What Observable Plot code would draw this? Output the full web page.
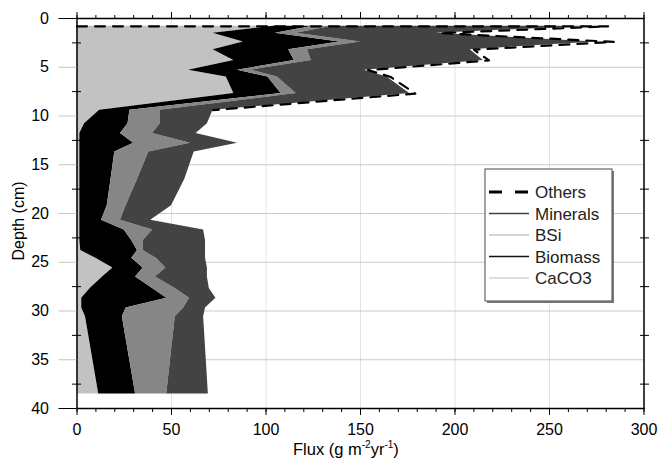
<!DOCTYPE html>
<html><head><meta charset="utf-8">
<script src="https://cdn.jsdelivr.net/npm/d3@7"></script>
<script src="https://cdn.jsdelivr.net/npm/@observablehq/plot@0.6"></script>
<style>
body{margin:0;background:#fff;}
#chart{position:relative;width:660px;height:469px;}
</style></head><body><div id="chart"></div>
<script>
// ---- data ----
const depth    = [0.8,1.5,2.4,3.2,4.3,5.3,6.0,7.7,9.4,10.8,11.8,12.8,13.7,16.5,19.2,20.7,21.7,22.8,23.8,24.6,25.6,26.5,27.7,28.7,29.7,30.6,38.5];
const caco3    = [104,72,88,72,83,59,79,83,12,4,1.5,1.5,1.5,1.5,1.5,1.5,1.5,1.5,2,10,19,13.5,7,2.5,2.5,4.5,11.5];
const biomass  = [21,33,51,40,32,26,22,25,16,23,21.5,28.5,18.5,16.5,14.5,11.5,23.5,27.5,30,19,16,17.5,33,45,23.5,19.5,19.5];
const bsi      = [10,11,11,10,9,7,5,8,16,17,17,30,18,14,10,10,15,6,3,13,12,10.5,12,12,30.5,28,16.5];
const minerals = [137,74,124,86,91,60,58,60,28,25,23,25,24,25,24,16,27,33,33,26,22,27.5,18,14,11.5,15,22];
const others   = [9,2,10,2,3,2,2,3,0,0,0,0,0,0,0,0,0,0,0,0,0,0,0,0,0,0,0];
const stackOrder = ["CaCO3","Biomass","BSi","Minerals"];
const legendNames = ["Others","Minerals","BSi","Biomass","CaCO3"];
const xTicks = [0,50,100,150,200,250,300];
const yTicks = [0,5,10,15,20,25,30,35,40];

// ---- build tables ----
const bySeries = {CaCO3: caco3, Biomass: biomass, BSi: bsi, Minerals: minerals};
const rows = [];
stackOrder.forEach(name => depth.forEach((d, i) => rows.push({series: name, depth: d, value: bySeries[name][i]})));
const total = depth.map((d, i) => caco3[i] + biomass[i] + bsi[i] + minerals[i] + others[i]);
let lastOthers = 0;
others.forEach((v, i) => { if (v > 0) lastOthers = i; });
const othersPts = [{x: 0, depth: depth[0]}];
for (let i = 0; i <= Math.min(lastOthers + 1, depth.length - 1); i++) othersPts.push({x: total[i], depth: depth[i]});

const fills = ["#c2c2c2", "#000000", "#868686", "#434343"];
const font = "'Liberation Sans', Arial, sans-serif";

const plot = Plot.plot({
  width: 660, height: 469,
  marginLeft: 76.5, marginRight: 16.5, marginTop: 18, marginBottom: 61,
  style: {fontFamily: font, fontSize: "16px", background: "white", color: "black"},
  x: {domain: [0, 300]},
  y: {domain: [0, 40], reverse: true},
  color: {domain: stackOrder, range: fills},
  marks: [
    Plot.gridX(xTicks.slice(1, -1), {stroke: "#e2e2e2", strokeOpacity: 1}),
    Plot.gridY(yTicks.slice(1, -1), {stroke: "#cacaca", strokeOpacity: 1}),
    Plot.areaX(rows, {x: "value", y: "depth", fill: "series", z: "series", order: stackOrder, curve: "linear"}),
    Plot.lineX(othersPts, {x: "x", y: "depth", stroke: "black", strokeWidth: 2.2, strokeDasharray: "10,8", curve: "linear"}),
    Plot.frame({stroke: "black", strokeWidth: 1.5}),
    Plot.axisX(xTicks, {anchor: "bottom", tickSize: 7, tickPadding: 8, label: null, fontSize: 16}),
    Plot.axisX(d3.range(0, 301, 10), {anchor: "bottom", tickSize: 4, text: null, label: null}),
    Plot.axisX(d3.range(0, 301, 10), {anchor: "top", tickSize: 4, text: null, label: null}),
    Plot.axisX(xTicks, {anchor: "top", tickSize: 7, text: null, label: null}),
    Plot.axisY(yTicks, {anchor: "left", tickSize: 18, tickPadding: 10, stroke: "#c4c4c4", fill: "black", label: null, fontSize: 16}),
    Plot.axisY([0, 40], {anchor: "left", tickSize: 18, text: null, label: null}),
    Plot.axisY(d3.range(2.5, 40, 5), {anchor: "left", tickSize: 9, dx: 4.5, text: null, label: null}),
    Plot.axisY(d3.range(2.5, 40, 5), {anchor: "right", tickSize: 9, dx: -4.5, text: null, label: null})
  ]
});
document.getElementById("chart").appendChild(plot);

const svg = d3.select(plot);
// axis titles
const xt = svg.append("text").attr("x", 293).attr("y", 455).attr("text-anchor", "start")
  .attr("font-family", font).attr("font-size", 16.5).attr("fill", "black");
xt.append("tspan").text("Flux (g m");
xt.append("tspan").attr("font-size", 10).attr("dy", -7).text("-2");
xt.append("tspan").attr("dy", 7).text("yr");
xt.append("tspan").attr("font-size", 10).attr("dy", -7).text("-1");
xt.append("tspan").attr("dy", 7).text(")");
svg.append("text").attr("transform", "translate(24,221) rotate(-90)").attr("text-anchor", "middle")
  .attr("font-family", font).attr("font-size", 16).attr("fill", "black").text("Depth (cm)");

// legend
const lg = svg.append("g");
lg.append("rect").attr("x", 487).attr("y", 171).attr("width", 127).attr("height", 132).attr("fill", "#777");
lg.append("rect").attr("x", 485).attr("y", 169).attr("width", 127).attr("height", 132).attr("fill", "white").attr("stroke", "#666").attr("stroke-width", 1.2);
const legStyle = {
  Others: {stroke: "black", w: 3, dash: "13,13"},
  Minerals: {stroke: "#434343", w: 1.5, dash: null},
  BSi: {stroke: "#a8a8a8", w: 1.2, dash: null},
  Biomass: {stroke: "#111", w: 1.5, dash: null},
  CaCO3: {stroke: "#d4d4d4", w: 1.5, dash: null}
};
const legY = [192, 213.5, 235, 256.5, 278];
legendNames.forEach((name, i) => {
  const s = legStyle[name];
  const ln = lg.append("line").attr("x1", 489).attr("x2", 529).attr("y1", legY[i]).attr("y2", legY[i])
    .attr("stroke", s.stroke).attr("stroke-width", s.w);
  if (s.dash) ln.attr("stroke-dasharray", s.dash);
  lg.append("text").attr("x", 535).attr("y", legY[i]).attr("dy", "0.36em").attr("text-anchor", "start")
    .attr("font-family", font).attr("font-size", 17).attr("fill", "#222").text(name);
});
</script></body></html>
